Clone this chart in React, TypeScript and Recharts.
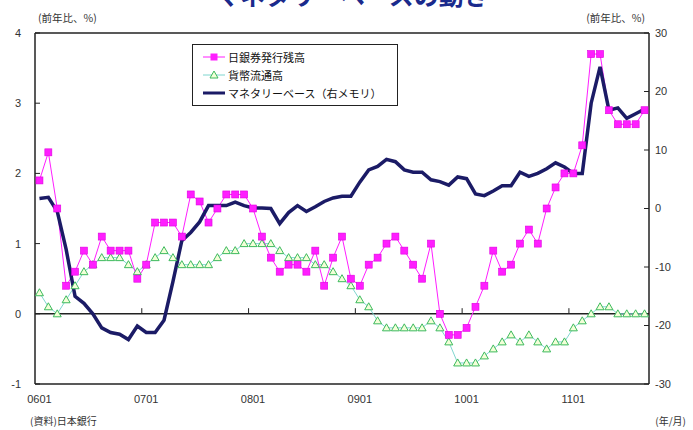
import { LineChart, Line, XAxis, YAxis, ReferenceLine } from "recharts";

const months = [
  "0601", "0602", "0603", "0604", "0605", "0606", "0607", "0608", "0609", "0610", "0611", "0612",
  "0701", "0702", "0703", "0704", "0705", "0706", "0707", "0708", "0709", "0710", "0711", "0712",
  "0801", "0802", "0803", "0804", "0805", "0806", "0807", "0808", "0809", "0810", "0811", "0812",
  "0901", "0902", "0903", "0904", "0905", "0906", "0907", "0908", "0909", "0910", "0911", "0912",
  "1001", "1002", "1003", "1004", "1005", "1006", "1007", "1008", "1009", "1010", "1011", "1012",
  "1101", "1102", "1103", "1104", "1105", "1106", "1107", "1108", "1109",
];

// 日銀券発行残高 (前年比、%)
const banknotes = [
  1.9, 2.3, 1.5, 0.4, 0.6, 0.9, 0.7, 1.1, 0.9, 0.9, 0.9, 0.5,
  0.7, 1.3, 1.3, 1.3, 1.1, 1.7, 1.6, 1.3, 1.5, 1.7, 1.7, 1.7,
  1.5, 1.1, 0.8, 0.6, 0.7, 0.7, 0.6, 0.9, 0.4, 0.8, 1.1, 0.5,
  0.4, 0.7, 0.8, 1.0, 1.1, 0.9, 0.7, 0.5, 1.0, 0.0, -0.3, -0.3,
  -0.2, 0.1, 0.4, 0.9, 0.6, 0.7, 1.0, 1.2, 1.0, 1.5, 1.8, 2.0,
  2.0, 2.4, 3.7, 3.7, 2.9, 2.7, 2.7, 2.7, 2.9,
];

// 貨幣流通高 (前年比、%)
const coins = [
  0.3, 0.1, 0.0, 0.2, 0.4, 0.6, 0.7, 0.8, 0.8, 0.8, 0.7, 0.6,
  0.7, 0.8, 0.9, 0.8, 0.7, 0.7, 0.7, 0.7, 0.8, 0.9, 0.9, 1.0,
  1.0, 1.0, 1.0, 0.9, 0.8, 0.8, 0.8, 0.7, 0.7, 0.6, 0.5, 0.4,
  0.2, 0.1, -0.1, -0.2, -0.2, -0.2, -0.2, -0.2, -0.1, -0.2, -0.4, -0.7,
  -0.7, -0.7, -0.6, -0.5, -0.4, -0.3, -0.4, -0.3, -0.4, -0.5, -0.4, -0.4,
  -0.2, -0.1, 0.0, 0.1, 0.1, 0.0, 0.0, 0.0, 0.0,
];

// マネタリーベース (右メモリ)
const monetaryBase = [
  1.7, 1.9, -0.5, -7.0, -15.0, -16.2, -18.0, -20.4, -21.2, -21.5, -22.4, -20.1,
  -21.2, -21.2, -19.1, -12.5, -5.5, -4.1, -2.3, 0.5, 0.5, 0.5, 1.1, 0.5,
  0.1, 0.1, 0.0, -2.6, -0.7, 0.5, -0.5, 0.3, 1.2, 1.8, 2.1, 2.1,
  4.5, 6.6, 7.2, 8.4, 8.0, 6.6, 6.2, 6.2, 4.9, 4.6, 4.0, 5.4,
  5.1, 2.5, 2.2, 3.0, 3.9, 3.9, 6.2, 5.5, 6.0, 6.8, 7.8, 7.1,
  6.0, 6.0, 18.0, 24.2, 16.8, 17.2, 15.4, 16.2, 17.0,
];

const monthTicks = [0, 12, 24, 36, 48, 60];
const yearBounds = [11.5, 23.5, 35.5, 47.5, 59.5];
const leftTicks = [-1, 0, 1, 2, 3, 4];
const rightTicks = [-30, -20, -10, 0, 10, 20, 30];

const seriesNames = ["日銀券発行残高", "貨幣流通高", "マネタリーベース（右メモリ）"];

const data = months.map((m, i) => ({
  idx: i,
  month: m,
  banknotes: banknotes[i],
  coins: coins[i],
  base: monetaryBase[i],
}));

const numFont = "'Liberation Sans', Arial, sans-serif";
const jpFont = "'Noto Sans CJK JP', sans-serif";

const SquareDot = (p: any) => {
  if (p.cx == null || p.cy == null) return null;
  return (
    <rect key={`sq-${p.index}`} x={p.cx - 3.5} y={p.cy - 3.5} width={7} height={7}
      fill="#ff1eff" stroke="#e000e0" strokeWidth={0.6} />
  );
};

const TriDot = (p: any) => {
  if (p.cx == null || p.cy == null) return null;
  const { cx, cy } = p;
  return (
    <path key={`tr-${p.index}`} d={`M${cx},${cy - 4}L${cx + 4},${cy + 3}L${cx - 4},${cy + 3}Z`}
      fill="#f3ffd8" stroke="#3dba5e" strokeWidth={1} />
  );
};

function LegendBox() {
  return (
    <div
      style={{
        position: "absolute",
        left: 192,
        top: 44,
        width: 184,
        border: "1px solid #222",
        background: "#fff",
        padding: "3px 10px 3px 10px",
        fontFamily: jpFont,
        fontSize: 11,
        color: "#111",
        lineHeight: "18px",
      }}
    >
      <div style={{ display: "flex", alignItems: "center" }}>
        <svg width={22} height={10} style={{ marginRight: 3 }}>
          <line x1={0} y1={5} x2={22} y2={5} stroke="#ff1eff" strokeWidth={1} />
          <rect x={7.5} y={1.5} width={7} height={7} fill="#ff1eff" />
        </svg>
        {seriesNames[0]}
      </div>
      <div style={{ display: "flex", alignItems: "center" }}>
        <svg width={22} height={10} style={{ marginRight: 3 }}>
          <line x1={0} y1={5} x2={22} y2={5} stroke="#7fd6cf" strokeWidth={1} />
          <path d="M11,1L15,8L7,8Z" fill="#f3ffd8" stroke="#3dba5e" strokeWidth={1} />
        </svg>
        {seriesNames[1]}
      </div>
      <div style={{ display: "flex", alignItems: "center" }}>
        <svg width={22} height={10} style={{ marginRight: 3 }}>
          <line x1={0} y1={5} x2={22} y2={5} stroke="#1b1b66" strokeWidth={3} />
        </svg>
        {seriesNames[2]}
      </div>
    </div>
  );
}

export default function App() {
  return (
    <div style={{ position: "absolute", left: 0, top: 0, width: 693, height: 430, background: "#fff", overflow: "hidden" }}>
      <LineChart width={693} height={430} data={data} margin={{ top: 33, right: 0, bottom: 26, left: 0 }}>
        <XAxis
          type="number"
          dataKey="idx"
          domain={[-0.5, 68.5]}
          ticks={monthTicks}
          tickFormatter={(v: number) => months[v]}
          tickLine={false}
          tickSize={0}
          tickMargin={11}
          height={20}
          axisLine={{ stroke: "#222", strokeWidth: 1.5 }}
          tick={{ fontFamily: numFont, fontSize: 11, fill: "#333" }}
          allowDataOverflow
        />
        <YAxis
          yAxisId="left"
          domain={[-1, 4]}
          ticks={leftTicks}
          width={35}
          tickSize={-5}
          tickMargin={19}
          axisLine={{ stroke: "#222", strokeWidth: 1.5 }}
          tickLine={{ stroke: "#222" }}
          tick={{ fontFamily: numFont, fontSize: 11, fill: "#333" }}
          allowDataOverflow
        />
        <YAxis
          yAxisId="right"
          orientation="right"
          domain={[-30, 30]}
          ticks={rightTicks}
          width={44}
          tickSize={-5}
          tickMargin={11}
          axisLine={{ stroke: "#222", strokeWidth: 1.5 }}
          tickLine={{ stroke: "#222" }}
          tick={{ fontFamily: numFont, fontSize: 11, fill: "#333" }}
          allowDataOverflow
        />
        <ReferenceLine yAxisId="left" y={4} stroke="#222" strokeWidth={1.5} />
        <ReferenceLine yAxisId="left" y={0} stroke="#222" strokeWidth={1.5} />
        {yearBounds.map((b) => (
          <ReferenceLine
            key={b}
            yAxisId="left"
            segment={[{ x: b, y: 0 }, { x: b, y: 0.08 }]}
            stroke="#222"
            strokeWidth={1}
          />
        ))}
        <Line
          yAxisId="left"
          dataKey="coins"
          name={seriesNames[1]}
          stroke="#7fd6cf"
          strokeWidth={1}
          dot={TriDot}
          activeDot={false}
          isAnimationActive={false}
        />
        <Line
          yAxisId="left"
          dataKey="banknotes"
          name={seriesNames[0]}
          stroke="#ff1eff"
          strokeWidth={1}
          dot={SquareDot}
          activeDot={false}
          isAnimationActive={false}
        />
        <Line
          yAxisId="right"
          dataKey="base"
          name={seriesNames[2]}
          stroke="#1b1b66"
          strokeWidth={3.5}
          dot={false}
          activeDot={false}
          isAnimationActive={false}
        />
      </LineChart>
      <LegendBox />
      <svg width={693} height={430} style={{ position: "absolute", left: 0, top: 0, pointerEvents: "none" }}>
        <text x={352} y={5} textAnchor="middle" fontFamily={jpFont} fontWeight="bold" fontSize={25} fill="#1a2a8c">
          マネタリーベースの動き
        </text>
        <text x={38} y={22} fontFamily={jpFont} fontSize={10.5} fill="#333">(前年比、%)</text>
        <text x={645} y={22} textAnchor="end" fontFamily={jpFont} fontSize={10.5} fill="#333">(前年比、%)</text>
        <text x={30} y={425} fontFamily={jpFont} fontSize={10} fill="#333">(資料)日本銀行</text>
        <text x={686} y={425} textAnchor="end" fontFamily={jpFont} fontSize={10} fill="#333">(年/月)</text>
      </svg>
    </div>
  );
}
